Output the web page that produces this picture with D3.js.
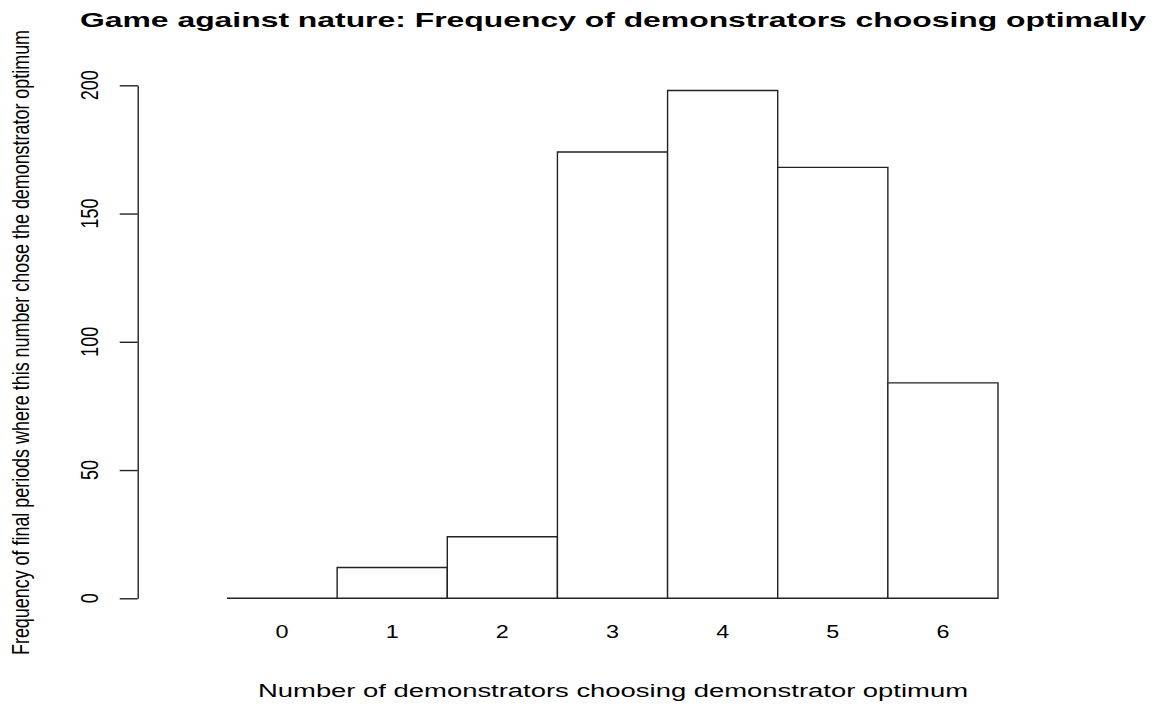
<!DOCTYPE html>
<html>
<head>
<meta charset="utf-8">
<script src="https://cdn.jsdelivr.net/npm/d3@7"></script>
<style>
body { margin: 0; background: #fff; }
text { font-family: "Liberation Sans", Arial, sans-serif; fill: #000; }
</style>
</head>
<body>
<div class="holder"></div>
<script>
var categories = ['0', '1', '2', '3', '4', '5', '6']
var counts = [0, 12, 24, 174, 198, 168, 84]
var yTicks = [0, 50, 100, 150, 200]

var width = 1155,
height = 706,
stretch = 1.3

var svg = d3.select('.holder')
  .append('svg')
  .attr('width', width)
  .attr('height', height)

var xScale = d3.scaleBand()
  .domain(categories)
  .range([227, 998])
  .padding(0)

var yScale = d3.scaleLinear()
  .domain([0, 200])
  .range([598.3, 85.3])

// bars drawn as closed paths so a zero count still shows its base line
svg.selectAll('.bar')
  .data(counts)
  .enter()
  .append('path')
  .attr('class', 'bar')
  .attr('d', function(d, i) {
    var x0 = xScale(categories[i]),
    x1 = x0 + xScale.bandwidth(),
    y0 = yScale(0),
    y1 = yScale(d)
    return 'M' + x0 + ',' + y0 + 'L' + x0 + ',' + y1 + 'L' + x1 + ',' + y1 + 'L' + x1 + ',' + y0 + 'Z'
  })
  .attr('fill', '#fff')
  .attr('stroke', '#222')
  .attr('stroke-width', 1.4)

// y axis
var yAxis = d3.axisLeft(yScale)
  .tickValues(yTicks)
  .tickSize(18)
  .tickSizeOuter(0)
  .tickFormat('')

var yChart = svg.append('g')
  .attr('transform', 'translate(137.7,0)')
  .call(yAxis)

yChart.select('.domain').attr('stroke', '#222').attr('stroke-width', 1.4)
yChart.selectAll('.tick line').attr('stroke', '#222').attr('stroke-width', 1.4)

svg.selectAll('.ylab')
  .data(yTicks)
  .enter()
  .append('text')
  .attr('class', 'ylab')
  .attr('transform', function(d) {
    return 'translate(98,' + yScale(d) + ') scale(' + stretch + ',1) rotate(-90)'
  })
  .attr('text-anchor', 'middle')
  .style('font-size', '18px')
  .text(function(d) { return d })

// x tick labels
svg.selectAll('.xlab')
  .data(categories)
  .enter()
  .append('text')
  .attr('class', 'xlab')
  .attr('transform', function(d) {
    return 'translate(' + (xScale(d) + xScale.bandwidth() / 2) + ',638) scale(' + stretch + ',1)'
  })
  .attr('text-anchor', 'middle')
  .style('font-size', '18px')
  .text(function(d) { return d })

// title
svg.append('text')
  .attr('x', 80)
  .attr('y', 27)
  .attr('textLength', 1066)
  .attr('lengthAdjust', 'spacingAndGlyphs')
  .style('font-size', '21px')
  .style('font-weight', 'bold')
  .text('Game against nature: Frequency of demonstrators choosing optimally')

// x axis title
svg.append('text')
  .attr('x', 258)
  .attr('y', 697)
  .attr('textLength', 710)
  .attr('lengthAdjust', 'spacingAndGlyphs')
  .style('font-size', '18px')
  .text('Number of demonstrators choosing demonstrator optimum')

// y axis title
svg.append('text')
  .attr('transform', 'translate(29,655) scale(' + stretch + ',1) rotate(-90)')
  .attr('textLength', 625)
  .attr('lengthAdjust', 'spacingAndGlyphs')
  .style('font-size', '18px')
  .text('Frequency of final periods where this number chose the demonstrator optimum')
</script>
</body>
</html>
